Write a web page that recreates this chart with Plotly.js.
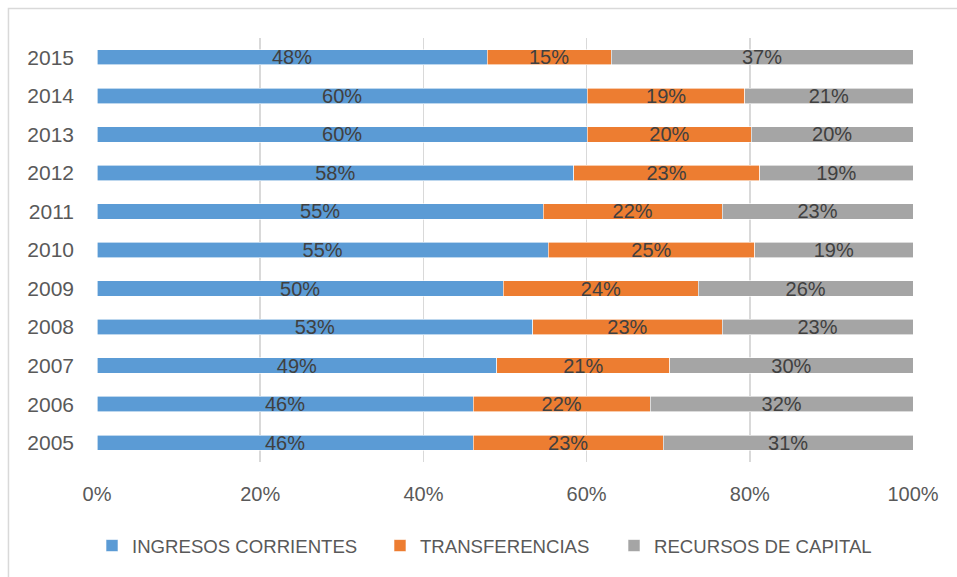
<!DOCTYPE html>
<html>
<head>
<meta charset="utf-8">
<script src="https://cdn.plot.ly/plotly-3.0.1.min.js"></script>
<style>
html,body{margin:0;padding:0;background:#fff;}
#chart{width:957px;height:577px;}
</style>
</head>
<body>
<div id="chart"></div>
<script>
const years = ['2005','2006','2007','2008','2009','2010','2011','2012','2013','2014','2015'];
const ingresosCorrientes = [46.1, 46.1, 49.0, 53.4, 49.8, 55.3, 54.7, 58.4, 60.1, 60.1, 47.8];
const transferencias     = [23.3, 21.7, 21.2, 23.2, 23.9, 25.3, 21.9, 22.8, 20.1, 19.3, 15.2];
const recursosCapital    = [30.6, 32.2, 29.8, 23.4, 26.3, 19.4, 23.4, 18.8, 19.8, 20.6, 37.0];
const seriesNames = ['INGRESOS CORRIENTES', 'TRANSFERENCIAS', 'RECURSOS DE CAPITAL'];
const xTickVals = [0, 20, 40, 60, 80, 100];
const xTickText = ['0%', '20%', '40%', '60%', '80%', '100%'];

const FONT = 'Liberation Sans, Arial, sans-serif';
const colors = ['#5B9BD5', '#ED7D31', '#A5A5A5'];
const seriesData = [ingresosCorrientes, transferencias, recursosCapital];
const legendIds = ['legend', 'legend2', 'legend3'];
const legendX = [-0.0061, 0.3468, 0.6336];

const traces = seriesData.map((vals, i) => ({
  type: 'bar',
  orientation: 'h',
  name: seriesNames[i],
  legend: legendIds[i],
  y: years,
  x: vals,
  marker: {color: colors[i], line: {color: '#ffffff', width: 0.6}},
  texttemplate: '%{x:.0f}%',
  textposition: 'inside',
  insidetextanchor: 'middle',
  constraintext: 'none',
  textfont: {family: FONT, size: 20, color: '#404040'},
  hoverinfo: 'skip'
}));

const layout = {
  width: 957,
  height: 577,
  margin: {l: 97, r: 44, t: 38, b: 115},
  paper_bgcolor: '#ffffff',
  plot_bgcolor: '#ffffff',
  barmode: 'stack',
  bargap: 0.6,
  showlegend: true,
  xaxis: {
    range: [0, 100],
    tickvals: xTickVals,
    ticktext: xTickText,
    showgrid: true,
    gridcolor: '#d9d9d9',
    gridwidth: 1.5,
    zeroline: false,
    showline: false,
    ticks: '',
    ticklabelstandoff: 18,
    tickfont: {family: FONT, size: 20, color: '#595959'},
    fixedrange: true
  },
  yaxis: {
    type: 'category',
    categoryorder: 'array',
    categoryarray: years,
    showgrid: false,
    zeroline: false,
    showline: false,
    ticks: '',
    ticklabelstandoff: 22,
    tickfont: {family: FONT, size: 21, color: '#595959'},
    fixedrange: true
  },
  shapes: [{
    type: 'rect', xref: 'paper', yref: 'paper',
    x0: -0.1085, x1: 1.06, y0: -0.28, y1: 1.0696,
    line: {color: '#d9d9d9', width: 1.5},
    fillcolor: 'rgba(0,0,0,0)',
    layer: 'below'
  }]
};

legendIds.forEach((id, i) => {
  layout[id] = {
    orientation: 'h',
    x: legendX[i], xanchor: 'left',
    y: -0.198, yanchor: 'middle',
    font: {family: FONT, size: 18.6, color: '#595959'},
    bgcolor: 'rgba(0,0,0,0)',
    borderwidth: 0,
    itemwidth: 30
  };
});

Plotly.newPlot('chart', traces, layout, {displayModeBar: false, staticPlot: true});
</script>
</body>
</html>
